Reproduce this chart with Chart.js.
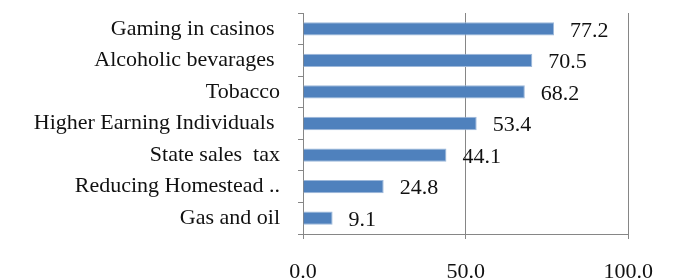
<!DOCTYPE html>
<html lang="en">
<head>
    <meta charset="UTF-8">
    <title>Revenue sources</title>
    <script src="https://cdn.jsdelivr.net/npm/chart.js"></script>
    <style>
        html, body { margin: 0; padding: 0; background: #fff; }
        #wrap { width: 673px; height: 280px; }
    </style>
</head>
<body>
    <div id="wrap"><canvas id="barChart" width="673" height="280"></canvas></div>
    <script>
        const categories = ['Gaming in casinos ', 'Alcoholic bevarages ', 'Tobacco', 'Higher Earning Individuals ',
            'State sales  tax', 'Reducing Homestead ..', 'Gas and oil'];
        const values = [77.2, 70.5, 68.2, 53.4, 44.1, 24.8, 9.1];
        const xTicks = [0, 50, 100];

        const fontFamily = '"Liberation Serif", "DejaVu Serif", serif';
        const axisGray = '#868686';

        // value labels drawn just past the end of each bar
        const valueLabels = {
            id: 'valueLabels',
            afterDatasetsDraw(chart) {
                const ctx = chart.ctx;
                const meta = chart.getDatasetMeta(0);
                ctx.save();
                ctx.font = '22px ' + fontFamily;
                ctx.fillStyle = '#111';
                ctx.textAlign = 'left';
                ctx.textBaseline = 'middle';
                meta.data.forEach((bar, i) => {
                    ctx.fillText(values[i].toFixed(1), bar.x + 16, bar.y + 2);
                });
                ctx.restore();
            }
        };

        new Chart(document.getElementById('barChart'), {
            type: 'bar',
            data: {
                labels: categories,
                datasets: [{
                    data: values,
                    backgroundColor: '#4F81BD',
                    borderColor: '#9DB8DA',
                    borderWidth: 1,
                    categoryPercentage: 1,
                    barPercentage: 0.42
                }]
            },
            options: {
                indexAxis: 'y',
                responsive: false,
                animation: false,
                layout: { padding: { top: 13, right: 41, left: 0, bottom: 0 } },
                plugins: { legend: { display: false }, tooltip: { enabled: false } },
                scales: {
                    x: {
                        min: 0,
                        max: 100,
                        afterBuildTicks: (axis) => { axis.ticks = xTicks.map(v => ({ value: v })); },
                        afterFit: (axis) => { axis.height = 46; },
                        grid: { color: axisGray, lineWidth: 1, tickLength: 5 },
                        border: { color: axisGray, width: 1 },
                        ticks: {
                            padding: 20,
                            color: '#111',
                            font: { family: fontFamily, size: 22 },
                            callback: (v) => Number(v).toFixed(1)
                        }
                    },
                    y: {
                        afterFit: (axis) => { axis.width = 303; axis.paddingTop = 0; axis.paddingBottom = 0; },
                        grid: { offset: true, drawOnChartArea: false, color: axisGray, tickLength: 5 },
                        border: { color: axisGray, width: 1 },
                        ticks: {
                            padding: 18,
                            color: '#111',
                            font: { family: fontFamily, size: 22 }
                        }
                    }
                }
            },
            plugins: [valueLabels]
        });
    </script>
</body>
</html>
